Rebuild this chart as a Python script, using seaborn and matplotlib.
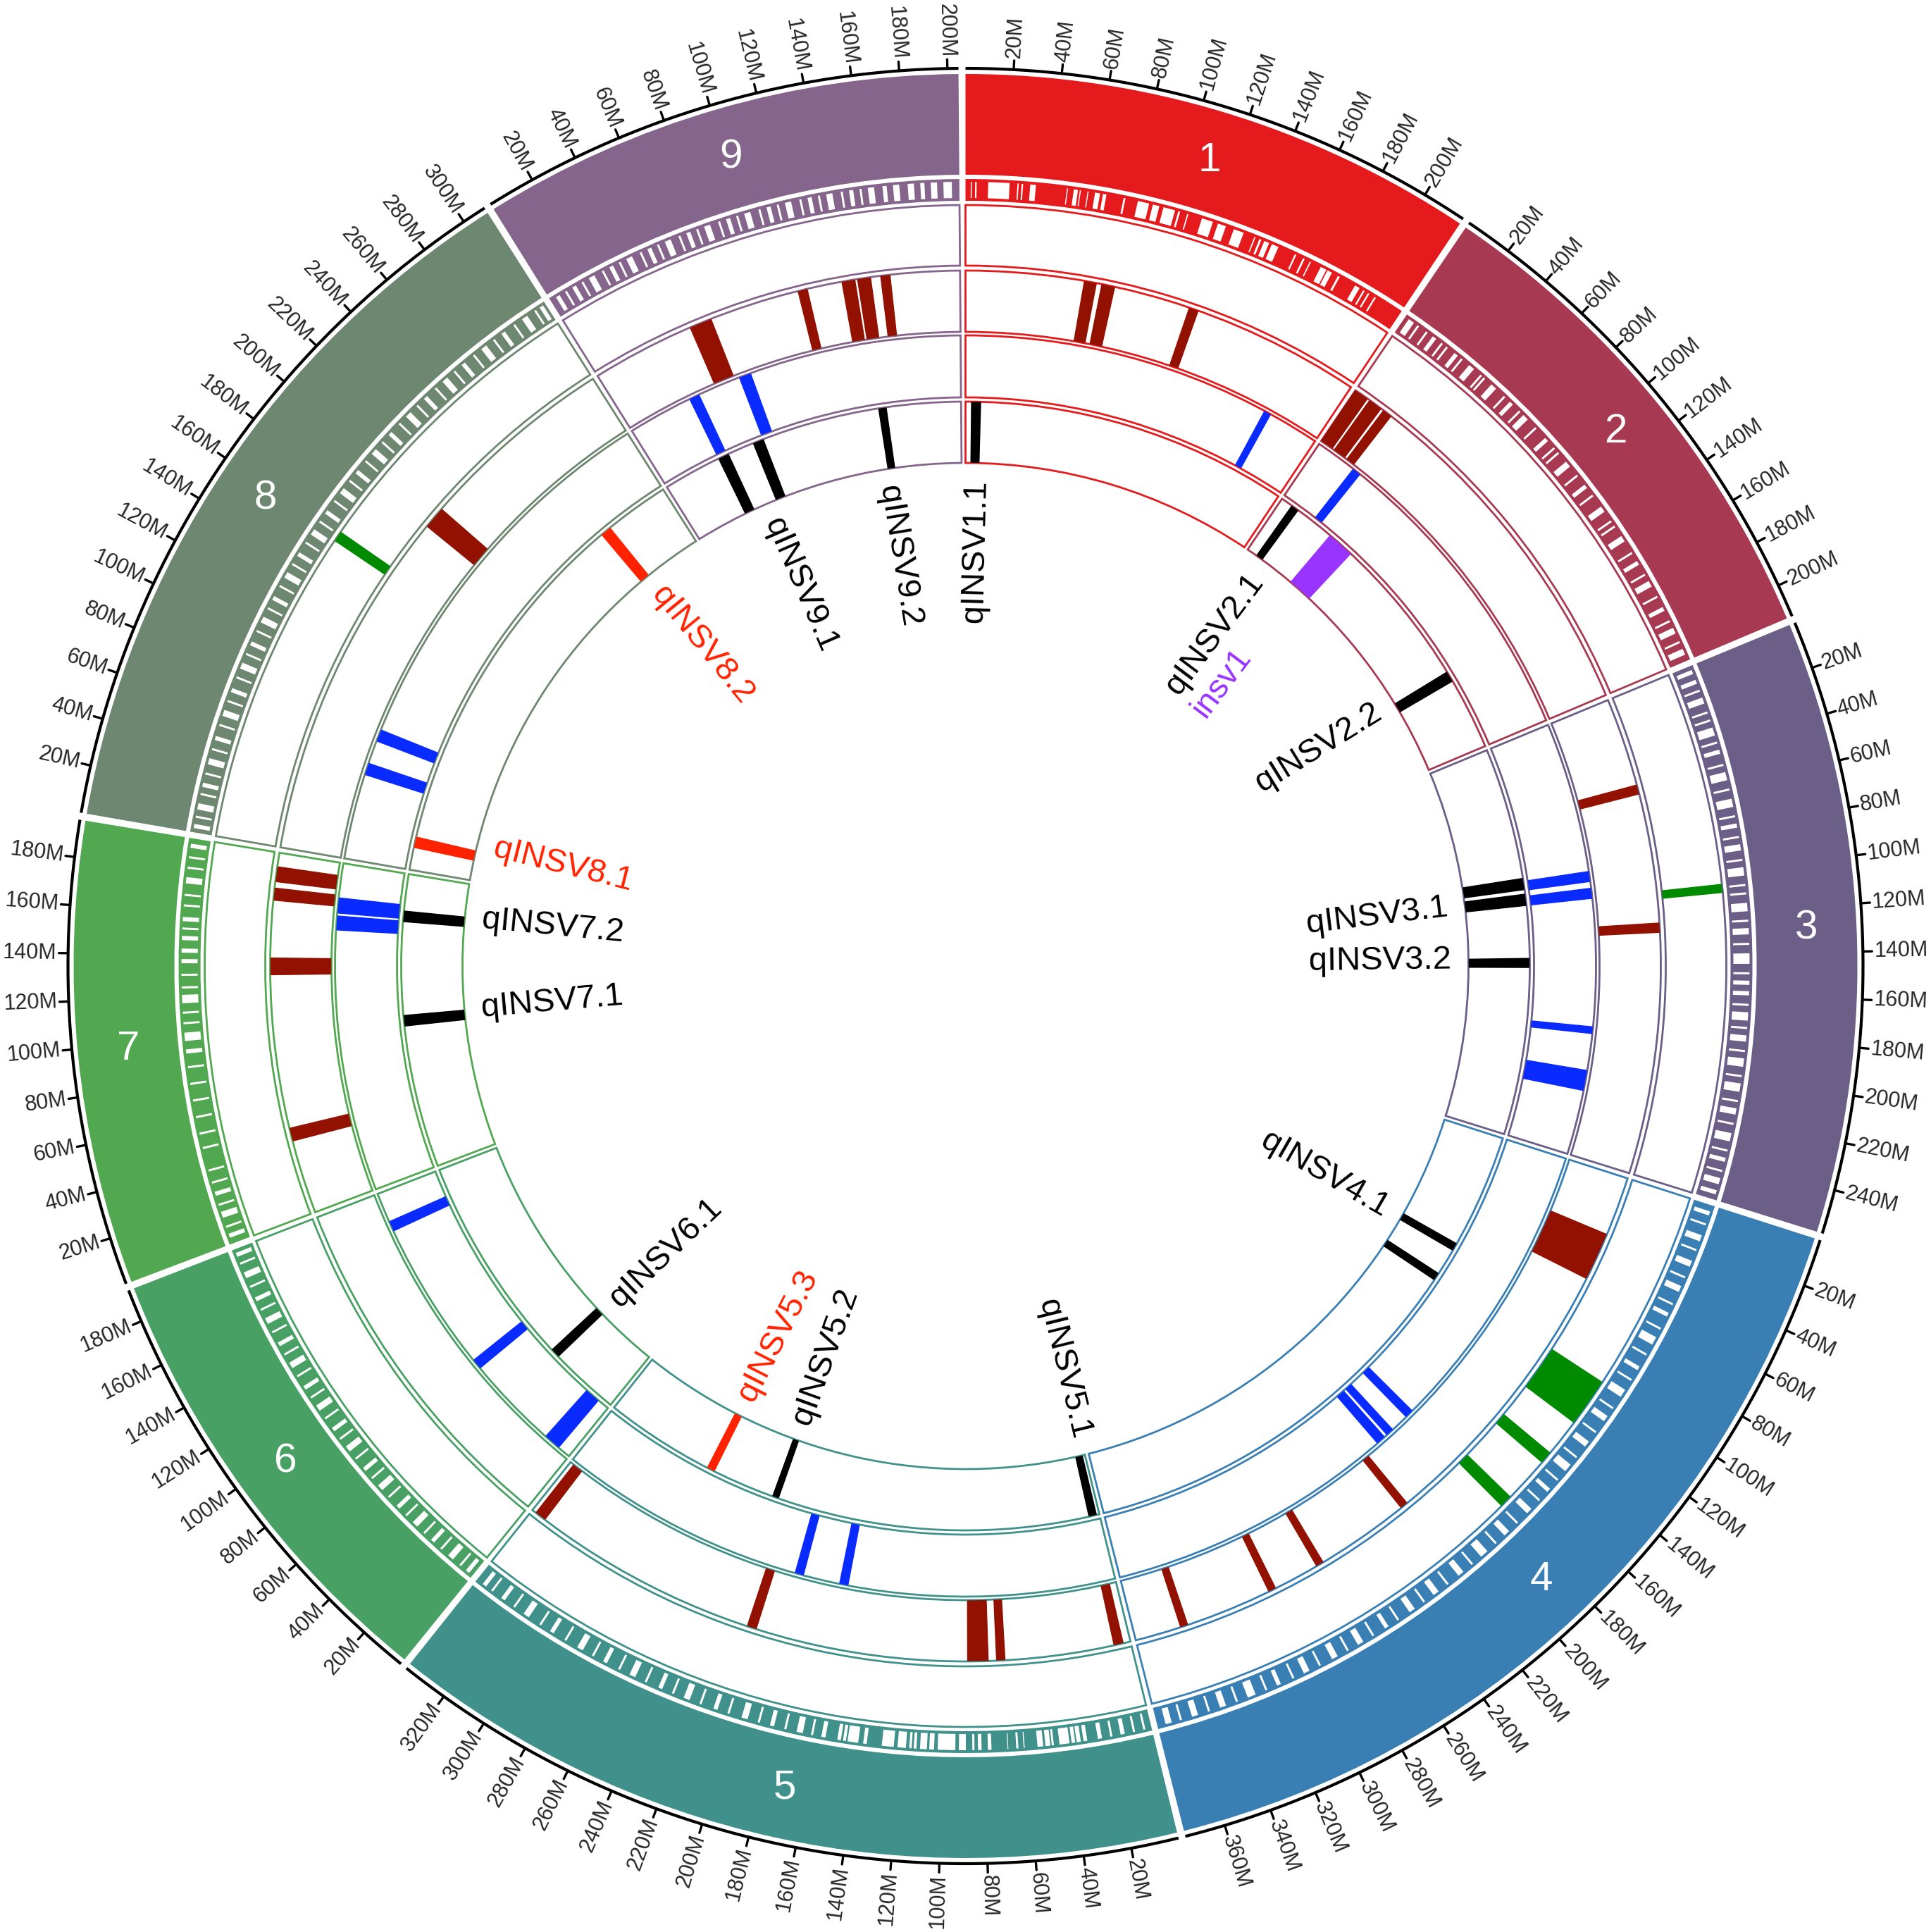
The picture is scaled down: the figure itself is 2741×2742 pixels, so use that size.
import numpy as np
import matplotlib
matplotlib.use("Agg")
import matplotlib.pyplot as plt
import seaborn as sns

sns.set_style("white")
plt.rcParams["font.family"] = ["Liberation Sans", "DejaVu Sans"]

# chromosomes (Mb)
chrom_names = ["1", "2", "3", "4", "5", "6", "7", "8", "9"]
chrom_len = [218.7, 214.0, 258.6, 377.0, 339.4, 193.8, 195.6, 310.3, 204.6]
chrom_colors = ["#E41A1C", "#A73A52", "#6B5E87", "#3A7FB4", "#40918C",
                "#48A064", "#52A850", "#6E8770", "#85658C"]

# white gaps in the marker density ring (start, end in Mb)
gaps_chr1 = [(2.5, 3.0), (4.6, 5.3), (10.8, 21.0), (24.7, 25.3), (26.7, 27.4), (30.8, 33.5),
             (48.3, 48.8), (51.6, 53.6), (54.5, 55.0), (58.2, 58.7), (61.8, 64.2), (65.6, 67.3),
             (75.6, 76.5), (82.5, 88.0), (89.8, 93.0), (95.0, 100.7), (102.3, 103.2), (106.7, 107.3),
             (114.0, 119.5), (122.0, 126.0), (130.0, 135.0), (140.4, 141.0), (143.0, 144.0),
             (145.5, 148.0), (149.4, 152.8), (161.3, 162.1), (165.6, 166.5), (169.2, 169.8),
             (175.0, 178.0), (178.6, 181.0), (184.2, 185.2), (193.5, 196.0), (198.0, 198.8),
             (200.6, 201.4), (204.2, 205.0)]
gaps_chr2 = [(2, 5), (7, 8), (12, 13), (16, 18), (21, 22), (24, 25), (29, 31), (33, 34), (38, 41),
             (45, 46), (47, 48), (52, 55), (60, 61), (64, 66), (70, 71), (73, 76), (81, 82), (88, 90),
             (94, 95), (97, 98), (103, 106), (111, 112), (117, 119), (123, 124), (130, 133),
             (138, 139), (141, 142), (147, 150), (156, 157), (161, 163), (168, 169), (172, 175),
             (180, 181), (186, 188), (193, 194), (197, 200), (204, 205), (208, 211)]
gaps_chr3 = [(2, 4), (7, 9), (12, 13), (16, 19), (23, 24), (27, 28), (31, 35), (38, 39), (42, 44),
             (49, 50), (53, 57), (61, 62), (66, 70), (74, 75), (78, 80), (84, 85), (88, 91), (95, 96),
             (99, 103), (107, 108), (111, 112), (116, 120), (124, 125), (128, 131), (135, 136),
             (140, 145), (149, 150), (153, 155), (158, 160), (164, 165), (168, 172), (175, 176),
             (179, 182), (186, 187), (190, 194), (198, 199), (202, 206), (210, 211), (214, 217),
             (221, 222), (226, 230), (234, 235), (238, 240), (244, 245), (248, 251), (254, 256)]
gaps_chr4 = [(3, 5), (9, 10), (15, 18), (22, 23), (28, 31), (36, 37), (41, 44), (50, 51), (55, 57),
             (63, 64), (68, 72), (77, 78), (84, 86), (91, 92), (97, 101), (107, 108), (112, 115),
             (121, 122), (127, 130), (136, 137), (141, 145), (150, 151), (156, 158), (163, 164),
             (169, 172), (178, 179), (184, 187), (192, 193), (198, 202), (207, 208), (213, 216),
             (222, 223), (228, 231), (236, 237), (242, 245), (251, 252), (257, 259), (265, 266),
             (271, 274), (279, 280), (285, 288), (294, 295), (300, 303), (308, 309), (315, 317),
             (322, 323), (328, 332), (337, 338), (343, 346), (351, 352), (357, 360), (365, 366),
             (370, 373)]
gaps_chr5 = [(3, 4), (8, 9), (13, 15), (19, 20), (24, 26), (31.1, 32.9), (34.2, 36.2), (36.9, 38.6),
             (39.6, 44.4), (47.1, 48.1), (48.8, 51.1), (52.2, 54.9), (61.0, 61.5), (64.0, 65.0),
             (68.8, 69.2), (76.8, 78.5), (81.5, 83.2), (84.9, 85.9), (89.0, 92.3), (94.0, 102.4),
             (104.1, 106.4), (107.5, 110.8), (112.5, 113.8), (114.8, 115.9), (117.5, 121.5),
             (123.3, 129.0), (136.2, 137.9), (140.3, 145.4), (146.2, 147.6), (148.6, 150.3),
             (156, 158), (162, 163), (167, 170), (175, 176), (181, 183), (188, 189), (194, 197),
             (203, 204), (209, 211), (217, 218), (223, 226), (231, 232), (237, 239), (245, 246),
             (251, 254), (259, 260), (266, 268), (273, 274), (279, 282), (288, 289), (295, 297),
             (302, 303), (309, 312), (317, 318), (323, 325), (330, 331), (334, 336)]
gaps_chr6 = [(2, 4), (7, 8), (12, 15), (19, 20), (24, 26), (30, 31), (35, 38), (42, 43), (47, 49),
             (54, 55), (59, 62), (66, 67), (71, 73), (78, 79), (83, 86), (90, 91), (95, 97),
             (102, 103), (107, 110), (114, 115), (119, 121), (126, 127), (131, 134), (138, 139),
             (143, 145), (150, 151), (155, 158), (162, 163), (167, 169), (174, 175), (179, 182),
             (186, 187), (190, 192)]
gaps_chr7 = [(3, 5), (8, 9), (13, 16), (19, 20), (24, 26), (30, 31), (36, 37), (47, 48), (54, 55),
             (62, 63), (70, 71), (78, 79), (86, 87), (93, 95), (99, 103), (107, 108), (112, 113),
             (117, 121), (124, 125), (130, 131), (136, 138), (141, 143), (147, 149), (152, 153),
             (156, 158), (163, 164), (168, 169), (174, 177), (181, 182), (186, 187), (191, 193)]
gaps_chr8 = [(2, 4), (7, 8), (11, 14), (18, 19), (22, 24), (28, 29), (33, 36), (40, 41), (45, 47),
             (52, 53), (57, 60), (64, 65), (69, 71), (76, 77), (81, 84), (88, 89), (93, 95), (100, 101),
             (105, 108), (112, 113), (117, 119), (124, 125), (129, 132), (136, 137), (141, 143),
             (148, 149), (153, 156), (160, 161), (165, 167), (172, 173), (177, 180), (184, 185),
             (189, 191), (196, 197), (201, 204), (208, 209), (213, 215), (220, 221), (225, 228),
             (232, 233), (237, 239), (244, 245), (249, 252), (256, 257), (261, 263), (268, 269),
             (273, 276), (280, 281), (285, 287), (292, 293), (297, 300), (304, 305), (307, 309)]
gaps_chr9 = [(3, 5), (8, 9), (12, 14), (17, 18), (21, 24), (28, 29), (32, 34), (37, 38), (41, 44),
             (48, 49), (52, 54), (57, 58), (61, 64), (68, 69), (72, 74), (77, 78), (81, 84), (88, 89),
             (92, 94), (97, 98), (101, 104), (108, 109), (112, 114), (117, 118), (121, 124),
             (128, 129), (132, 134), (137, 138), (141, 144), (148, 149), (152, 154), (157, 158),
             (161, 164), (168, 170), (173, 176), (180, 183), (186, 188), (191, 194), (197, 201)]
density_gaps = [gaps_chr1, gaps_chr2, gaps_chr3, gaps_chr4, gaps_chr5,
                gaps_chr6, gaps_chr7, gaps_chr8, gaps_chr9]

# track A: green intervals (chrom, start, end)
green_bars = [(3, 106, 110), (4, 100, 124), (4, 143, 149), (4, 172, 178), (8, 157, 162)]
# track B: dark red intervals
darkred_bars = [(1, 64, 70.5), (1, 73.5, 80.5), (1, 122, 127),
                (2, 0, 7.8), (2, 9.3, 16.8), (2, 18.5, 23.5),
                (3, 48, 53), (3, 123, 128),
                (4, 32, 58), (4, 213, 217), (4, 268, 272), (4, 297, 301), (4, 348, 352),
                (5, 4, 9), (5, 68, 72.5), (5, 77, 88), (5, 203, 208), (5, 331, 337),
                (7, 40, 47), (7, 130, 139), (7, 170, 176.5), (7, 180, 188),
                (8, 191, 203),
                (9, 56, 68), (9, 117, 122), (9, 141, 148), (9, 149.5, 156.5), (9, 162, 167)]
# track C: blue intervals
blue_bars = [(1, 184, 188), (2, 25, 30), (3, 90, 96), (3, 100, 106), (3, 182, 186), (3, 208, 220),
             (4, 176, 181), (4, 192, 196.5), (4, 198.5, 204),
             (5, 159, 164), (5, 186, 191),
             (6, 8, 18), (6, 74, 80), (6, 170, 176),
             (7, 156, 164.3), (7, 166, 175),
             (8, 51, 58), (8, 72, 79),
             (9, 39, 45), (9, 71, 78)]
# track D: QTL intervals (chrom, start, end, kind)
qtl_bars = [(1, 4, 10, "q"), (2, 8, 13, "q"), (2, 40, 58, "insv"), (2, 159, 166, "q"),
            (3, 88, 95.5, "q"), (3, 98.5, 106, "q"), (3, 141, 147, "q"),
            (4, 76, 81, "q"), (4, 99, 104, "q"),
            (5, 2, 7, "q"), (5, 215, 219, "q"), (5, 261, 266, "new"),
            (6, 47, 53, "q"),
            (7, 95, 102, "q"), (7, 164, 171, "q"),
            (8, 15, 22, "new"), (8, 260, 267, "new"),
            (9, 39, 46, "q"), (9, 64, 71, "q"), (9, 150, 155, "q")]
# QTL labels (text, chrom, position, kind)
qtl_labels = [("qINSV1.1", 1, 8.9, "q"), ("qINSV2.1", 2, 18.0, "q"), ("qINSV2.2", 2, 156.7, "q"),
              ("qINSV3.1", 3, 101.2, "q"), ("qINSV3.2", 3, 141.4, "q"), ("qINSV4.1", 4, 80.0, "q"),
              ("qINSV5.1", 5, 0.0, "q"), ("qINSV5.2", 5, 217.7, "q"), ("qINSV5.3", 5, 263.8, "new"),
              ("qINSV6.1", 6, 47.6, "q"), ("qINSV7.1", 7, 102.2, "q"), ("qINSV7.2", 7, 170.4, "q"),
              ("qINSV8.1", 8, 27.1, "new"), ("qINSV8.2", 8, 265.5, "new"),
              ("qINSV9.1", 9, 55.6, "q"), ("qINSV9.2", 9, 147.8, "q")]
insv_label = ("insv1", 2, 49.0)

kind_colors = {"q": "black", "new": "#FF2200", "insv": "#9933FF"}
GREEN, DARKRED, BLUE = "#008A00", "#921100", "#0A2BFF"

# layout (radius in pixels)
R_AXIS = 1274
IDEO = (1123, 1266)
DENS = (1086, 1117)
TRACKS = [(994, 1080), (900, 987), (807, 895), (714, 801)]
LABEL_R = 690
GAP = 0.45

k = (360 - GAP * len(chrom_len)) / sum(chrom_len)
chrom_start = np.concatenate([[0.0], np.cumsum(np.array(chrom_len[:-1]) * k + GAP)])


def ang(c, pos):
    return chrom_start[c - 1] + pos * k


def radial_rot(a):
    a = a % 360
    if a <= 180:
        return 90 - a, True
    return 270 - a, False


def sector(c, p0, p1, r0, r1, **kw):
    t0 = np.deg2rad(ang(c, p0))
    t1 = np.deg2rad(ang(c, p1))
    ax.bar(t0, r1 - r0, width=t1 - t0, bottom=r0, align="edge", **kw)


def feature(c, p0, p1, track, col):
    r0, r1 = TRACKS[track]
    sector(c, p0, p1, r0 + 1, r1 - 1, facecolor=col, edgecolor=col, linewidth=0.5)


fig = plt.figure(figsize=(2741 / 200, 2742 / 200), dpi=200)
ax = fig.add_axes([0, 0, 1, 1], projection="polar")
ax.set_theta_zero_location("N")
ax.set_theta_direction(-1)
ax.set_ylim(0, 1370.5)
ax.set_axis_off()

for i, (name, L, col) in enumerate(zip(chrom_names, chrom_len, chrom_colors)):
    c = i + 1
    # ideogram
    sector(c, 0, L, *IDEO, color=col, linewidth=0)
    mid = np.deg2rad(ang(c, L / 2))
    ax.text(mid, (IDEO[0] + IDEO[1]) / 2, name, color="white", fontsize=21,
            ha="center", va="center")
    # density ring
    sector(c, 0, L, *DENS, color=col, linewidth=0)
    for g0, g1 in density_gaps[i]:
        sector(c, g0, g1, DENS[0] + 4, DENS[1] - 4, color="white", linewidth=0)
    # empty tracks
    for r0, r1 in TRACKS:
        sector(c, 0, L, r0, r1, facecolor="white", edgecolor=col, linewidth=1.0)
    # axis with ticks
    th = np.deg2rad(np.linspace(ang(c, 0), ang(c, L), 300))
    ax.plot(th, np.full_like(th, R_AXIS), color="black", lw=1.5, solid_capstyle="butt")
    for t in np.arange(20, L, 20):
        a = ang(c, t)
        ax.plot([np.deg2rad(a)] * 2, [R_AXIS, R_AXIS + 13], color="black", lw=1.2)
        rot, right = radial_rot(a)
        ax.text(np.deg2rad(a), R_AXIS + 16, f"{int(t)}M", fontsize=11, rotation=rot,
                rotation_mode="anchor", ha="left" if right else "right", va="center")

for c, p0, p1 in green_bars:
    feature(c, p0, p1, 0, GREEN)
for c, p0, p1 in darkred_bars:
    feature(c, p0, p1, 1, DARKRED)
for c, p0, p1 in blue_bars:
    feature(c, p0, p1, 2, BLUE)
for c, p0, p1, kind in qtl_bars:
    feature(c, p0, p1, 3, kind_colors[kind])

for text, c, pos, kind in qtl_labels:
    a = ang(c, pos)
    rot, right = radial_rot(a)
    ax.text(np.deg2rad(a), LABEL_R, text, fontsize=17, color=kind_colors[kind], rotation=rot,
            rotation_mode="anchor", ha="right" if right else "left", va="center")

# insv1 sits as a second line under qINSV2.1, parallel to it
rot21, _ = radial_rot(ang(2, 18.0))
ax.text(np.deg2rad(ang(insv_label[1], insv_label[2])), 597, insv_label[0], fontsize=17,
        color=kind_colors["insv"], rotation=rot21, rotation_mode="anchor", ha="right", va="center")

fig.savefig("out.png", dpi=200)
